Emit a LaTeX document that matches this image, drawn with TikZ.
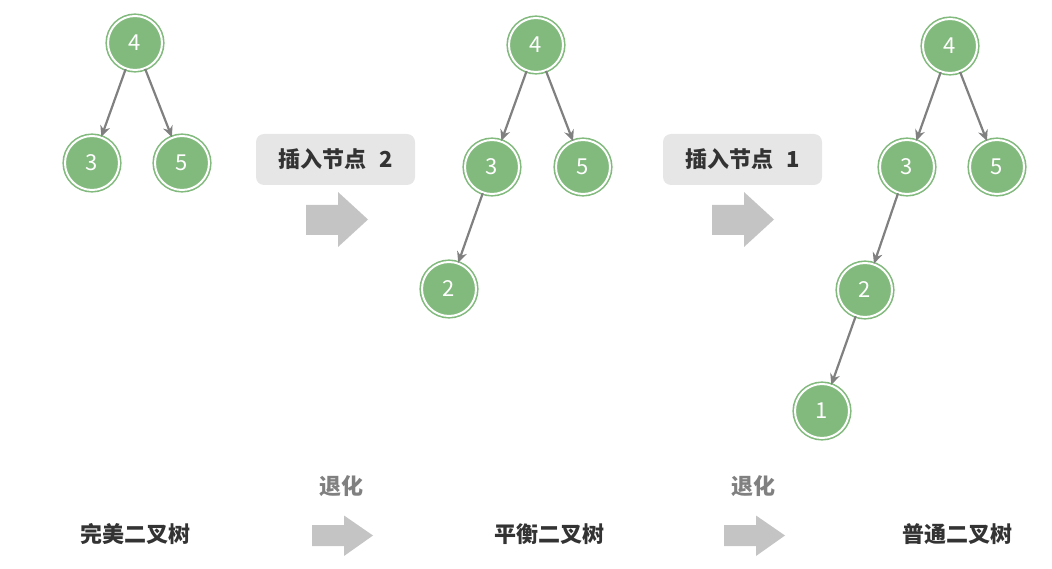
\documentclass[tikz,border=0pt]{standalone}
\usepackage{fontspec}
\setmainfont{Noto Sans CJK SC}
\usetikzlibrary{arrows.meta}
\definecolor{ngreen}{HTML}{82BA7E}
\definecolor{egray}{HTML}{808080}
\definecolor{boxgray}{HTML}{E6E6E6}
\definecolor{txtdark}{HTML}{333333}
\definecolor{arrgray}{HTML}{C4C4C4}
\begin{document}
\begin{tikzpicture}[x=1pt,y=-1pt,
  tnode/.style={circle,minimum size=54pt,inner sep=0pt,fill=ngreen,draw=ngreen,
    double=white,double distance=2pt,line width=1.6pt,text=white,font=\fontsize{22}{22}\selectfont},
  tedge/.style={draw=egray,line width=2.2pt,-{Stealth[length=11pt,width=10pt]}},
  lbox/.style={fill=boxgray,rounded corners=8pt,minimum width=159pt,minimum height=51pt,
    text=txtdark,font=\fontsize{22}{22}\selectfont\bfseries},
  deglabel/.style={text=egray,font=\fontsize{22}{22}\selectfont\bfseries},
  treelabel/.style={text=txtdark,font=\fontsize{22}{22}\selectfont\bfseries},
  blockarrow/.style={fill=arrgray,draw=none}]
\useasboundingbox (0,0) rectangle (1052,569);
% tree 1
\node[tnode] (a4) at (135,43) {4};
\node[tnode] (a3) at (92,163) {3};
\node[tnode] (a5) at (182,163) {5};
\draw[tedge] (a4) -- (a3);
\draw[tedge] (a4) -- (a5);
% tree 2
\node[tnode] (b4) at (536,45) {4};
\node[tnode] (b3) at (492,167) {3};
\node[tnode] (b5) at (583,167) {5};
\node[tnode] (b2) at (449,289) {2};
\draw[tedge] (b4) -- (b3);
\draw[tedge] (b4) -- (b5);
\draw[tedge] (b3) -- (b2);
% tree 3
\node[tnode] (c4) at (950,46) {4};
\node[tnode] (c3) at (907,167) {3};
\node[tnode] (c5) at (997,167) {5};
\node[tnode] (c2) at (865,290) {2};
\node[tnode] (c1) at (822,411) {1};
\draw[tedge] (c4) -- (c3);
\draw[tedge] (c4) -- (c5);
\draw[tedge] (c3) -- (c2);
\draw[tedge] (c2) -- (c1);
% label boxes
\node[lbox] (ins2) at (335.5,159.5) {插入节点\hspace{0.6em}2};
\node[lbox] (ins1) at (742.5,159.5) {插入节点\hspace{0.6em}1};
% big arrows
\fill[blockarrow] (306,205) -- (338,205) -- (338,192) -- (368,219.5) -- (338,247) -- (338,235) -- (306,235) -- cycle;
\fill[blockarrow] (712,205) -- (744,205) -- (744,192) -- (774,219.5) -- (744,247) -- (744,235) -- (712,235) -- cycle;
% bottom arrows
\fill[blockarrow] (312,525) -- (344,525) -- (344,515.5) -- (373,535.5) -- (344,556) -- (344,546) -- (312,546) -- cycle;
\fill[blockarrow] (724,525) -- (756,525) -- (756,515.5) -- (785,535.5) -- (756,556) -- (756,546) -- (724,546) -- cycle;
% labels
\node[deglabel] (d1) at (341,486) {退化};
\node[deglabel] (d2) at (753,486) {退化};
\node[treelabel] (t1) at (135,534) {完美二叉树};
\node[treelabel] (t2) at (549,534) {平衡二叉树};
\node[treelabel] (t3) at (957,534) {普通二叉树};
\end{tikzpicture}
\end{document}
